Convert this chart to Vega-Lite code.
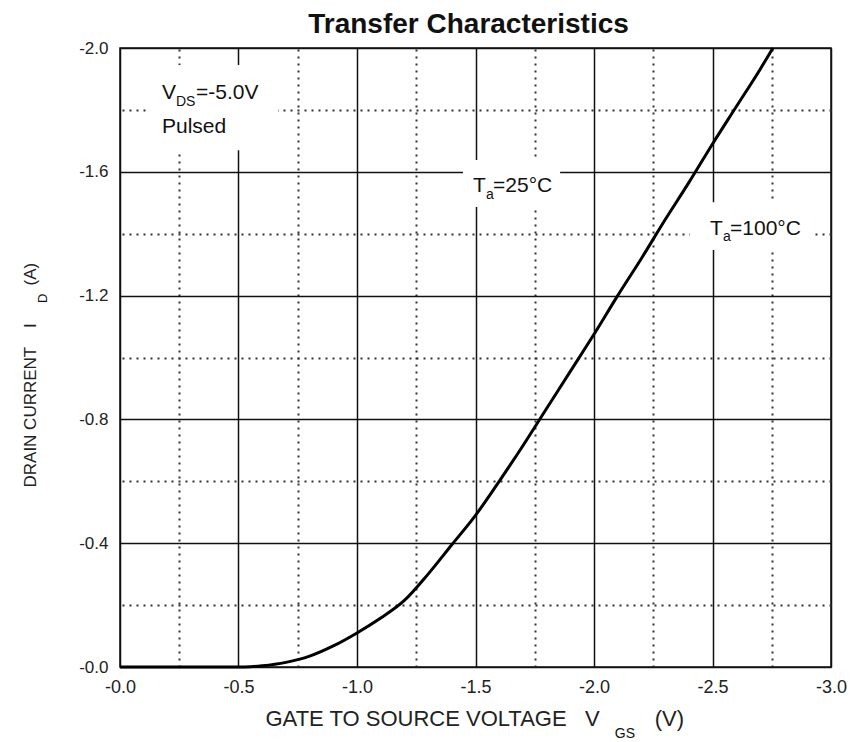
{
  "$schema": "https://vega.github.io/schema/vega-lite/v6.json",
  "autosize": {"type": "none"},
  "padding": {"left": 120, "top": 48, "right": 28, "bottom": 75},
  "width": 711,
  "height": 619,
  "background": "white",
  "title": {
    "text": "Transfer Characteristics",
    "font": "Liberation Sans",
    "fontSize": 28,
    "fontWeight": "bold",
    "color": "#111",
    "anchor": "middle",
    "frame": "group",
    "offset": 14,
    "dx": -7,
    "dy": 14
  },
  "datasets": {
    "curve": [
      {"vgs": 0.0, "id": 0.0},
      {"vgs": -0.3, "id": 0.0},
      {"vgs": -0.5, "id": 0.0},
      {"vgs": -0.55, "id": -0.001},
      {"vgs": -0.6, "id": -0.004},
      {"vgs": -0.7, "id": -0.015},
      {"vgs": -0.8, "id": -0.035},
      {"vgs": -0.9, "id": -0.068},
      {"vgs": -1.0, "id": -0.11},
      {"vgs": -1.1, "id": -0.158},
      {"vgs": -1.2, "id": -0.215},
      {"vgs": -1.3, "id": -0.3},
      {"vgs": -1.4, "id": -0.395},
      {"vgs": -1.5, "id": -0.49},
      {"vgs": -1.6, "id": -0.6},
      {"vgs": -1.7, "id": -0.715},
      {"vgs": -1.8, "id": -0.835},
      {"vgs": -1.9, "id": -0.955},
      {"vgs": -2.0, "id": -1.075},
      {"vgs": -2.1, "id": -1.2},
      {"vgs": -2.2, "id": -1.32},
      {"vgs": -2.3, "id": -1.445},
      {"vgs": -2.4, "id": -1.565},
      {"vgs": -2.5, "id": -1.69},
      {"vgs": -2.6, "id": -1.81},
      {"vgs": -2.7, "id": -1.93},
      {"vgs": -2.755, "id": -2.0}
    ],
    "boxes": [
      {"x1": -0.127, "x2": -0.667, "y1": -1.945, "y2": -1.67},
      {"x1": -1.447, "x2": -1.857, "y1": -1.638, "y2": -1.486},
      {"x1": -2.405, "x2": -2.924, "y1": -1.502, "y2": -1.347}
    ],
    "notes": [
      {"text": "V", "x": -0.177, "y": -1.834},
      {"text": "=-5.0V", "x": -0.321, "y": -1.834},
      {"text": "Pulsed", "x": -0.177, "y": -1.725},
      {"text": "T", "x": -1.489, "y": -1.535},
      {"text": "=25°C", "x": -1.574, "y": -1.535},
      {"text": "T", "x": -2.489, "y": -1.396},
      {"text": "=100°C", "x": -2.574, "y": -1.396}
    ],
    "subs": [
      {"text": "DS", "x": -0.236, "y": -1.813},
      {"text": "a", "x": -1.544, "y": -1.512},
      {"text": "a", "x": -2.544, "y": -1.376},
      {"text": "GS", "x": -2.088, "y": 0.228}
    ],
    "vsubs": [
      {"text": "D", "x": 0.308, "y": -1.176}
    ]
  },
  "layer": [
    {
      "data": {"name": "curve"},
      "mark": {"type": "line", "color": "#000", "strokeWidth": 3, "interpolate": "monotone"},
      "encoding": {
        "x": {
          "field": "vgs",
          "type": "quantitative",
          "scale": {"domain": [-3, 0], "reverse": true, "nice": false, "zero": false},
          "axis": {
            "title": "GATE TO SOURCE VOLTAGE\u00a0\u00a0\u00a0V\u00a0\u00a0\u00a0\u00a0\u00a0\u00a0\u00a0\u00a0\u00a0(V)",
            "titleFontSize": 22,
            "titleFontWeight": "normal",
            "titleColor": "#222",
            "titleAlign": "left",
            "titleBaseline": "alphabetic",
            "titleX": 145,
            "titleY": 58,
            "values": [0, -0.25, -0.5, -0.75, -1, -1.25, -1.5, -1.75, -2, -2.25, -2.5, -2.75, -3],
            "labelExpr": "abs(round(datum.value*4)) % 2 == 1 ? '' : '-' + format(abs(datum.value), '.1f')",
            "labelFontSize": 18,
            "labelColor": "#222",
            "labelPadding": 11,
            "labelOverlap": false,
            "labelFlush": false,
            "ticks": false,
            "tickSize": 0,
            "domain": false,
            "grid": true,
            "gridColor": {"condition": {"test": "abs(round(datum.value*4)) % 2 == 1", "value": "#333"}, "value": "#111"},
            "gridWidth": {"condition": {"test": "abs(round(datum.value*4)) % 2 == 1", "value": 2}, "value": 1.5},
            "gridDash": {"condition": {"test": "abs(round(datum.value*4)) % 2 == 1", "value": [2, 5]}, "value": []},
            "gridOpacity": 1
          }
        },
        "y": {
          "field": "id",
          "type": "quantitative",
          "scale": {"domain": [-2, 0], "reverse": true, "nice": false, "zero": false},
          "axis": {
            "title": "DRAIN CURRENT\u00a0\u00a0\u00a0\u00a0I\u00a0\u00a0\u00a0\u00a0\u00a0\u00a0\u00a0\u00a0(A)",
            "titleFontSize": 17,
            "titleFontWeight": "normal",
            "titleColor": "#222",
            "titleAngle": -90,
            "titleAlign": "left",
            "titleBaseline": "alphabetic",
            "titleX": -85,
            "titleY": 439,
            "values": [0, -0.2, -0.4, -0.6, -0.8, -1, -1.2, -1.4, -1.6, -1.8, -2],
            "labelExpr": "abs(round(datum.value*5)) % 2 == 1 ? '' : '-' + format(abs(datum.value), '.1f')",
            "labelFontSize": 17,
            "labelColor": "#222",
            "labelPadding": 12,
            "labelOverlap": false,
            "labelFlush": false,
            "ticks": false,
            "tickSize": 0,
            "domain": false,
            "grid": true,
            "gridColor": {"condition": {"test": "abs(round(datum.value*5)) % 2 == 1", "value": "#333"}, "value": "#111"},
            "gridWidth": {"condition": {"test": "abs(round(datum.value*5)) % 2 == 1", "value": 2}, "value": 1.5},
            "gridDash": {"condition": {"test": "abs(round(datum.value*5)) % 2 == 1", "value": [2, 5]}, "value": []},
            "gridOpacity": 1
          }
        }
      }
    },
    {
      "data": {"name": "boxes"},
      "mark": {"type": "rect", "fill": "white", "stroke": null},
      "encoding": {
        "x": {"field": "x1", "type": "quantitative"},
        "x2": {"field": "x2"},
        "y": {"field": "y1", "type": "quantitative"},
        "y2": {"field": "y2"}
      }
    },
    {
      "data": {"name": "notes"},
      "mark": {"type": "text", "fontSize": 21, "align": "left", "baseline": "alphabetic", "color": "#111"},
      "encoding": {
        "x": {"field": "x", "type": "quantitative"},
        "y": {"field": "y", "type": "quantitative"},
        "text": {"field": "text", "type": "nominal"}
      }
    },
    {
      "data": {"name": "subs"},
      "mark": {"type": "text", "fontSize": 14, "align": "left", "baseline": "alphabetic", "color": "#111"},
      "encoding": {
        "x": {"field": "x", "type": "quantitative"},
        "y": {"field": "y", "type": "quantitative"},
        "text": {"field": "text", "type": "nominal"}
      }
    },
    {
      "data": {"name": "vsubs"},
      "mark": {"type": "text", "fontSize": 13, "align": "left", "baseline": "alphabetic", "angle": 270, "color": "#111"},
      "encoding": {
        "x": {"field": "x", "type": "quantitative"},
        "y": {"field": "y", "type": "quantitative"},
        "text": {"field": "text", "type": "nominal"}
      }
    }
  ],
  "config": {
    "font": "Liberation Sans",
    "view": {"stroke": "#111", "strokeWidth": 1.5}
  }
}
